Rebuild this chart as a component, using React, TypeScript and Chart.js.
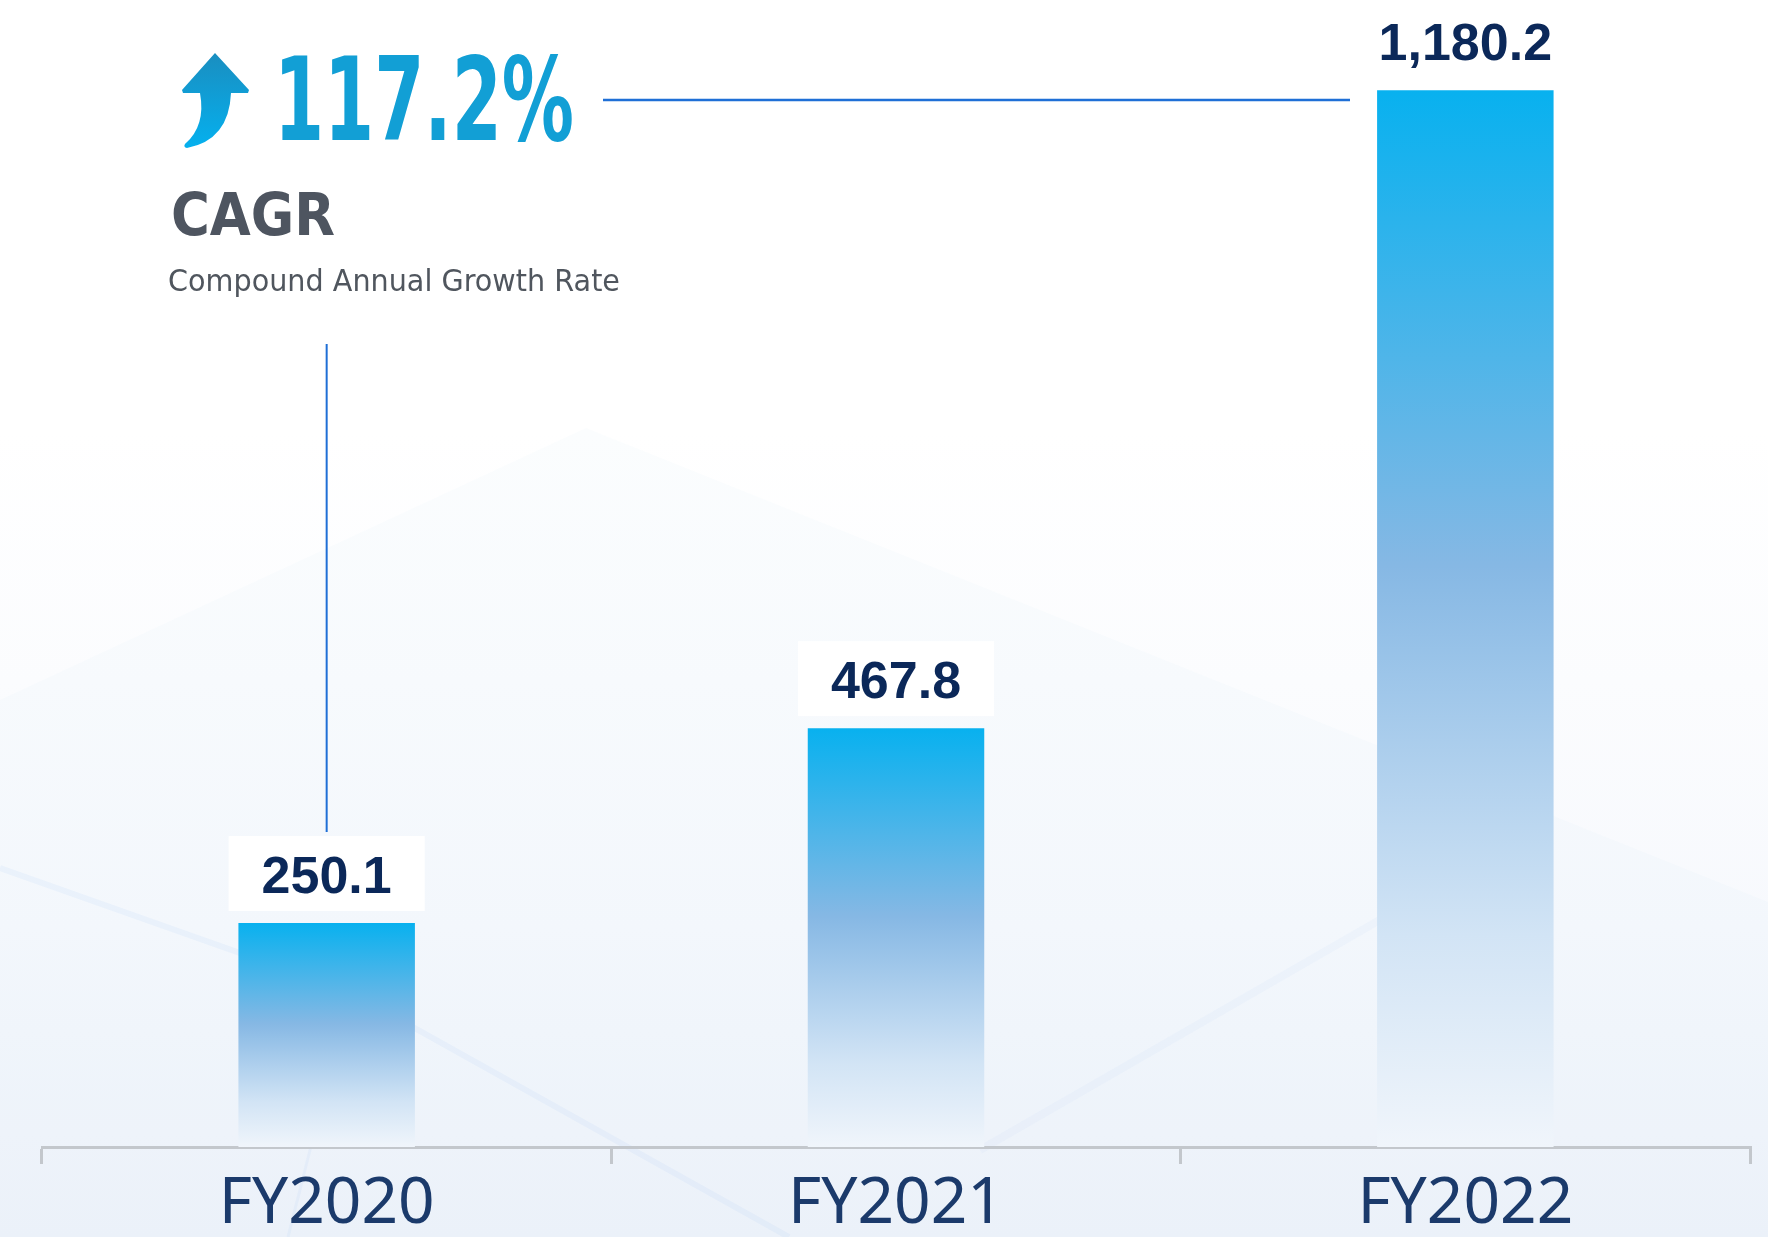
import React, { useEffect, useRef } from 'react';
import { Chart, registerables } from 'chart.js';

Chart.register(...registerables);

const categories = ['FY2020', 'FY2021', 'FY2022'];
const values = [250.1, 467.8, 1180.2];
const valueLabels = ['250.1', '467.8', '1,180.2'];
const cagrValue = '117.2%';
const cagrTitle = 'CAGR';
const cagrSubtitle = 'Compound Annual Growth Rate';

const W = 1768;
const H = 1237;

export default function App() {
  const ref = useRef<HTMLCanvasElement>(null);

  useEffect(() => {
    const canvas = ref.current;
    if (!canvas) return;

    const bgPlugin = {
      id: 'bg',
      beforeDraw(chart: any) {
        const ctx = chart.ctx as CanvasRenderingContext2D;
        ctx.save();
        const g = ctx.createLinearGradient(0, 0, 0, H);
        g.addColorStop(0, '#ffffff');
        g.addColorStop(0.35, '#ffffff');
        g.addColorStop(0.75, '#f7f9fd');
        g.addColorStop(1, '#eef3fa');
        ctx.fillStyle = g;
        ctx.fillRect(0, 0, W, H);
        // faint diagonal shapes
        ctx.fillStyle = 'rgba(205,222,245,0.07)';
        ctx.beginPath();
        ctx.moveTo(586, 428);
        ctx.lineTo(W, 902);
        ctx.lineTo(W, H);
        ctx.lineTo(0, H);
        ctx.lineTo(0, 700);
        ctx.closePath();
        ctx.fill();
        ctx.strokeStyle = 'rgba(120,170,235,0.07)';
        ctx.lineWidth = 6;
        ctx.beginPath();
        ctx.moveTo(0, 868);
        ctx.lineTo(350, 992);
        ctx.lineTo(789, H);
        ctx.stroke();
        ctx.lineWidth = 3;
        ctx.beginPath();
        ctx.moveTo(350, 992);
        ctx.lineTo(288, H);
        ctx.stroke();
        ctx.strokeStyle = 'rgba(150,190,240,0.06)';
        ctx.lineWidth = 8;
        ctx.beginPath();
        ctx.moveTo(980, 1150);
        ctx.lineTo(1510, 845);
        ctx.stroke();
        ctx.restore();
      },
    };

    const overlayPlugin = {
      id: 'overlay',
      afterDraw(chart: any) {
        const ctx = chart.ctx as CanvasRenderingContext2D;
        const meta = chart.getDatasetMeta(0);
        ctx.save();
        // connector lines
        ctx.strokeStyle = '#1f6fd6';
        ctx.lineWidth = 2.5;
        ctx.beginPath();
        ctx.moveTo(603, 100);
        ctx.lineTo(1350, 100);
        ctx.stroke();
        const first = meta.data[0];
        ctx.lineWidth = 2;
        ctx.beginPath();
        ctx.moveTo(first.x, 344);
        ctx.lineTo(first.x, 832);
        ctx.stroke();

        // value labels
        ctx.font = 'bold 52px "Liberation Sans", Arial, sans-serif';
        ctx.textAlign = 'center';
        ctx.textBaseline = 'alphabetic';
        meta.data.forEach((bar: any, i: number) => {
          const txt = valueLabels[i];
          const base = bar.y - 30;
          const tw = ctx.measureText(txt).width;
          ctx.fillStyle = '#ffffff';
          ctx.fillRect(bar.x - tw / 2 - 33, base - 57, tw + 66, 75);
          ctx.fillStyle = '#0b2859';
          ctx.fillText(txt, bar.x, base);
        });

        // arrow icon
        const ag = ctx.createLinearGradient(0, 53, 0, 147);
        ag.addColorStop(0, '#1a8ec0');
        ag.addColorStop(1, '#05b0ee');
        ctx.fillStyle = ag;
        ctx.beginPath();
        ctx.moveTo(215, 53);
        ctx.lineTo(249, 90);
        ctx.lineTo(248, 93);
        ctx.lineTo(231, 93);
        ctx.quadraticCurveTo(229, 140, 187, 148);
        ctx.quadraticCurveTo(183, 147, 185, 144);
        ctx.quadraticCurveTo(206, 126, 200, 93);
        ctx.lineTo(183, 93);
        ctx.lineTo(182, 90);
        ctx.closePath();
        ctx.fill();

        // CAGR texts
        ctx.textAlign = 'left';
        ctx.fillStyle = '#129fd5';
        ctx.font = 'bold 116px "Liberation Sans Narrow", "DejaVu Sans Condensed", sans-serif';
        ctx.fillText(cagrValue, 274, 140, 300);
        ctx.fillStyle = '#4e5560';
        ctx.font = 'bold 59px "DejaVu Sans Condensed", "DejaVu Sans", sans-serif';
        ctx.fillText(cagrTitle, 171, 235, 164);
        ctx.fillStyle = '#50565e';
        ctx.font = '31px "DejaVu Sans", sans-serif';
        ctx.fillText(cagrSubtitle, 168, 291, 452);
        ctx.restore();
      },
    };

    const chart = new Chart(canvas, {
      type: 'bar',
      data: {
        labels: categories,
        datasets: [
          {
            data: values,
            backgroundColor: (c: any) => {
              const ch = c.chart;
              if (!ch.chartArea || c.raw == null) return '#3ab4ec';
              const ys = ch.scales.y;
              const top = ys.getPixelForValue(c.raw);
              const bottom = ys.getPixelForValue(0);
              const g = ch.ctx.createLinearGradient(0, top, 0, bottom);
              g.addColorStop(0, '#08b1ef');
              g.addColorStop(0.45, '#86b8e4');
              g.addColorStop(0.8, '#d2e4f5');
              g.addColorStop(1, '#f0f5fb');
              return g;
            },
            borderWidth: 0,
            categoryPercentage: 1,
            barPercentage: 0.31,
          },
        ],
      },
      options: {
        responsive: false,
        animation: false,
        layout: { padding: { left: 42, right: 18, top: 0, bottom: 0 } },
        plugins: {
          legend: { display: false },
          tooltip: { enabled: false },
        },
        scales: {
          x: {
            afterFit(scale: any) {
              scale.height = 90;
            },
            grid: {
              display: true,
              drawOnChartArea: false,
              drawTicks: true,
              tickLength: 17,
              color: '#c3c7cc',
              lineWidth: 3,
              offset: true,
            },
            border: { display: true, color: '#c3c7cc', width: 3 },
            ticks: {
              color: '#1b3a6b',
              font: { family: '"Noto Sans", sans-serif', size: 64 },
              padding: 2,
              maxRotation: 0,
            },
          },
          y: {
            display: false,
            min: 0,
            max: 1281,
          },
        },
      },
      plugins: [bgPlugin, overlayPlugin],
    });

    return () => chart.destroy();
  }, []);

  return (
    <div style={{ position: 'absolute', left: 0, top: 0, width: W, height: H, overflow: 'hidden' }}>
      <canvas ref={ref} width={W} height={H} style={{ display: 'block' }} />
    </div>
  );
}
